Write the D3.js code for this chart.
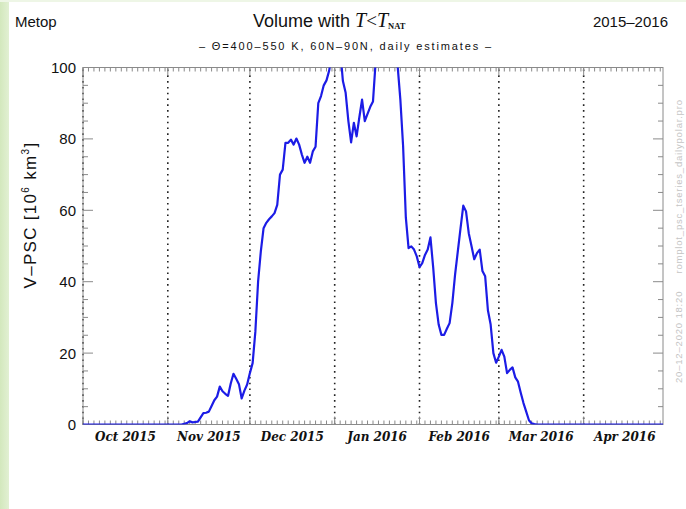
<!DOCTYPE html>
<html>
<head>
<meta charset="utf-8">
<script src="https://cdn.jsdelivr.net/npm/d3@7"></script>
<style>
  body { margin: 0; background: #fff; }
  svg { display: block; }
</style>
</head>
<body>
<svg id="chart" width="686" height="509"></svg>
<script>
// Daily PSC volume (10^6 km^3), one value per day starting 1 Oct 2015
const startDay = [2015, 9, 1];
const endDay = [2016, 3, 30];
const volume = [
  0, 0, 0, 0, 0, 0, 0, 0, 0, 0,
  0, 0, 0, 0, 0, 0, 0, 0, 0, 0,
  0, 0, 0, 0, 0, 0, 0, 0, 0, 0,
  0, 0, 0, 0, 0, 0, 0, 0.2, 0.4, 0.9,
  0.6, 0.7, 0.8, 2.0, 3.2, 3.3, 3.6, 5.2, 6.8, 7.8,
  10.6, 9.3, 8.6, 8.0, 11.5, 14.2, 12.8, 11.3, 7.3, 9.5,
  11.2, 14.4, 17.2, 26, 40, 48.5, 55, 56.5, 57.5, 58.3,
  59.2, 61.5, 70, 71.4, 78.9, 78.9, 79.8, 78.4, 80.1, 78.4,
  75.6, 73.3, 75, 73.3, 76.5, 77.8, 90, 92, 95, 96.4,
  99.2, 104, 109, 110, 105, 96.2, 92.9, 85, 79, 84.5,
  80.7, 86, 91, 85, 87, 89, 90.5, 102, 110, 116,
  120, 118, 114, 110, 106, 100.5, 91, 78, 58, 49.4,
  49.9, 49, 47.1, 44.1, 45.2, 47.5, 49, 52.4, 44, 34,
  28, 25.1, 25.1, 26.8, 28.4, 34, 42, 48.5, 55, 61.3,
  59.7, 53.6, 50, 46.3, 48, 49, 43, 41.5, 32, 28,
  20, 17.3, 19, 20.9, 19, 14.4, 15.3, 16, 13.2, 12,
  8.9, 6, 3.6, 1.2, 0.3, 0.1, 0, 0, 0, 0,
  0, 0, 0, 0, 0, 0, 0, 0, 0, 0,
  0, 0, 0, 0, 0, 0, 0, 0, 0, 0,
  0, 0, 0, 0, 0, 0, 0, 0, 0, 0,
  0, 0, 0, 0, 0, 0, 0, 0, 0, 0,
  0, 0, 0
];
const monthLabels = ["Oct 2015", "Nov 2015", "Dec 2015", "Jan 2016", "Feb 2016", "Mar 2016", "Apr 2016"];
const yTicks = [0, 20, 40, 60, 80, 100];
const yMinorTicks = [5, 10, 15, 25, 30, 35, 45, 50, 55, 65, 70, 75, 85, 90, 95];

const svg = d3.select("#chart");
const pLeft = 83, pRight = 663, pTop = 67.5, pBottom = 424.5;

const t0 = new Date(Date.UTC(...startDay));
const t1 = new Date(Date.UTC(...endDay));
const dates = volume.map((v, i) => d3.utcDay.offset(t0, i));

const x = d3.scaleUtc().domain([t0, t1]).range([pLeft, pRight]);
const y = d3.scaleLinear().domain([0, 100]).range([pBottom, pTop]);

// page background strip
const defs = svg.append("defs");
const grad = defs.append("linearGradient").attr("id", "strip")
  .attr("x1", 0).attr("x2", 1).attr("y1", 0).attr("y2", 0);
grad.append("stop").attr("offset", 0).attr("stop-color", "#d3e8bd");
grad.append("stop").attr("offset", 1).attr("stop-color", "#e2f0d3");
svg.append("rect").attr("x", 0).attr("y", 0).attr("width", 9).attr("height", 509).attr("fill", "url(#strip)");
svg.append("rect").attr("x", 0).attr("y", 0).attr("width", 686).attr("height", 2).attr("fill", "#eef6e6");

defs.append("clipPath").attr("id", "plot")
  .append("rect").attr("x", pLeft).attr("y", pTop).attr("width", pRight - pLeft).attr("height", pBottom - pTop);

// month separators
const months = d3.utcMonth.range(t0, d3.utcDay.offset(t1, 1));
svg.append("g").selectAll("line").data(months).join("line")
  .attr("x1", d => x(d)).attr("x2", d => x(d))
  .attr("y1", pTop + 2).attr("y2", pBottom)
  .attr("stroke", "#222").attr("stroke-width", 1.6)
  .attr("stroke-dasharray", "1.6,4.2");

// frame
const frameColor = "#8a8a8a";
svg.append("rect").attr("x", pLeft).attr("y", pTop).attr("width", pRight - pLeft).attr("height", pBottom - pTop)
  .attr("fill", "none").attr("stroke", frameColor).attr("stroke-width", 1);

// x ticks (top and bottom, pointing inward)
const days2 = d3.utcDay.every(2).range(t0, d3.utcDay.offset(t1, 1));
const xt = svg.append("g").attr("stroke", frameColor).attr("stroke-width", 1);
xt.selectAll(".b").data(days2).join("line").attr("class", "b")
  .attr("x1", d => x(d)).attr("x2", d => x(d)).attr("y1", pBottom).attr("y2", pBottom - 4);
xt.selectAll(".t").data(days2).join("line").attr("class", "t")
  .attr("x1", d => x(d)).attr("x2", d => x(d)).attr("y1", pTop).attr("y2", pTop + 4);
xt.selectAll(".mb").data(months).join("line").attr("class", "mb")
  .attr("x1", d => x(d)).attr("x2", d => x(d)).attr("y1", pBottom).attr("y2", pBottom - 8);
xt.selectAll(".mt").data(months).join("line").attr("class", "mt")
  .attr("x1", d => x(d)).attr("x2", d => x(d)).attr("y1", pTop).attr("y2", pTop + 8);

// y ticks (left and right, pointing inward)
const yt = svg.append("g").attr("stroke", frameColor).attr("stroke-width", 1);
yt.selectAll(".lM").data(yTicks).join("line").attr("class", "lM")
  .attr("x1", pLeft).attr("x2", pLeft + 10).attr("y1", d => y(d)).attr("y2", d => y(d));
yt.selectAll(".rM").data(yTicks).join("line").attr("class", "rM")
  .attr("x1", pRight).attr("x2", pRight - 10).attr("y1", d => y(d)).attr("y2", d => y(d));
yt.selectAll(".lm").data(yMinorTicks).join("line").attr("class", "lm")
  .attr("x1", pLeft).attr("x2", pLeft + 5).attr("y1", d => y(d)).attr("y2", d => y(d));
yt.selectAll(".rm").data(yMinorTicks).join("line").attr("class", "rm")
  .attr("x1", pRight).attr("x2", pRight - 5).attr("y1", d => y(d)).attr("y2", d => y(d));

// y tick labels
svg.append("g").selectAll("text").data(yTicks).join("text")
  .attr("x", 76).attr("y", d => y(d)).attr("dy", "0.36em")
  .attr("text-anchor", "end")
  .attr("font-family", "Liberation Sans, Arial, sans-serif").attr("font-size", 15)
  .attr("fill", "#111").text(d => d);

// month labels at mid-month
svg.append("g").selectAll("text").data(months).join("text")
  .attr("x", d => x(new Date(d.getTime() + (d3.utcMonth.offset(d, 1) - d) / 2)))
  .attr("y", 441)
  .attr("text-anchor", "middle")
  .attr("font-family", "DejaVu Serif, serif").attr("font-style", "italic").attr("font-weight", "bold")
  .attr("font-size", 12).attr("fill", "#111")
  .text((d, i) => monthLabels[i]);

// data line
const line = d3.line().x((d, i) => x(dates[i])).y(d => y(d));
svg.append("path").datum(volume)
  .attr("clip-path", "url(#plot)")
  .attr("d", line)
  .attr("fill", "none").attr("stroke", "#1c1ce6").attr("stroke-width", 2.2)
  .attr("stroke-linejoin", "round");

// titles
const sans = "Liberation Sans, Arial, sans-serif";
svg.append("text").attr("x", 15).attr("y", 27).attr("font-family", sans).attr("font-size", 15)
  .attr("fill", "#111").text("Metop");
svg.append("text").attr("x", 668).attr("y", 27).attr("text-anchor", "end").attr("font-family", sans)
  .attr("font-size", 15).attr("fill", "#111").text("2015–2016");

const title = svg.append("text").attr("x", 253).attr("y", 27).attr("font-family", sans)
  .attr("font-size", 18).attr("fill", "#111");
title.append("tspan").text("Volume with ");
title.append("tspan").attr("font-family", "Liberation Serif, serif").attr("font-style", "italic")
  .attr("font-size", 20).text("T");
title.append("tspan").attr("font-family", "Liberation Serif, serif").attr("font-size", 19).text("<");
title.append("tspan").attr("font-family", "Liberation Serif, serif").attr("font-style", "italic")
  .attr("font-size", 20).text("T");
title.append("tspan").attr("font-family", "Liberation Serif, serif").attr("font-weight", "bold")
  .attr("font-size", 8.5).attr("dy", 2).text("NAT");

svg.append("text").attr("x", 345).attr("y", 50).attr("text-anchor", "middle")
  .attr("font-family", sans).attr("font-size", 11).attr("fill", "#111")
  .attr("textLength", 292).attr("lengthAdjust", "spacing")
  .text("– Θ=400–550 K, 60N–90N, daily estimates –");

// y axis title
const yl = svg.append("text").attr("transform", "translate(36,215) rotate(-90)")
  .attr("text-anchor", "middle").attr("font-family", sans).attr("font-size", 17)
  .attr("fill", "#111").attr("letter-spacing", 1.3);
yl.append("tspan").text("V–PSC [10");
yl.append("tspan").attr("font-size", 10).attr("dy", -7).text("6");
yl.append("tspan").attr("dy", 7).text(" km");
yl.append("tspan").attr("font-size", 10).attr("dy", -7).text("3");
yl.append("tspan").attr("dy", 7).text("]");

// program stamp along the right edge
svg.append("text").attr("transform", "translate(682,383) rotate(-90)")
  .attr("font-family", sans).attr("font-size", 9.5).attr("fill", "#c4c4c4")
  .attr("xml:space", "preserve").attr("textLength", 283).attr("lengthAdjust", "spacing")
  .text("20–12–2020 18:20     romplot_psc_tseries_dailypolar.pro");
</script>
</body>
</html>
